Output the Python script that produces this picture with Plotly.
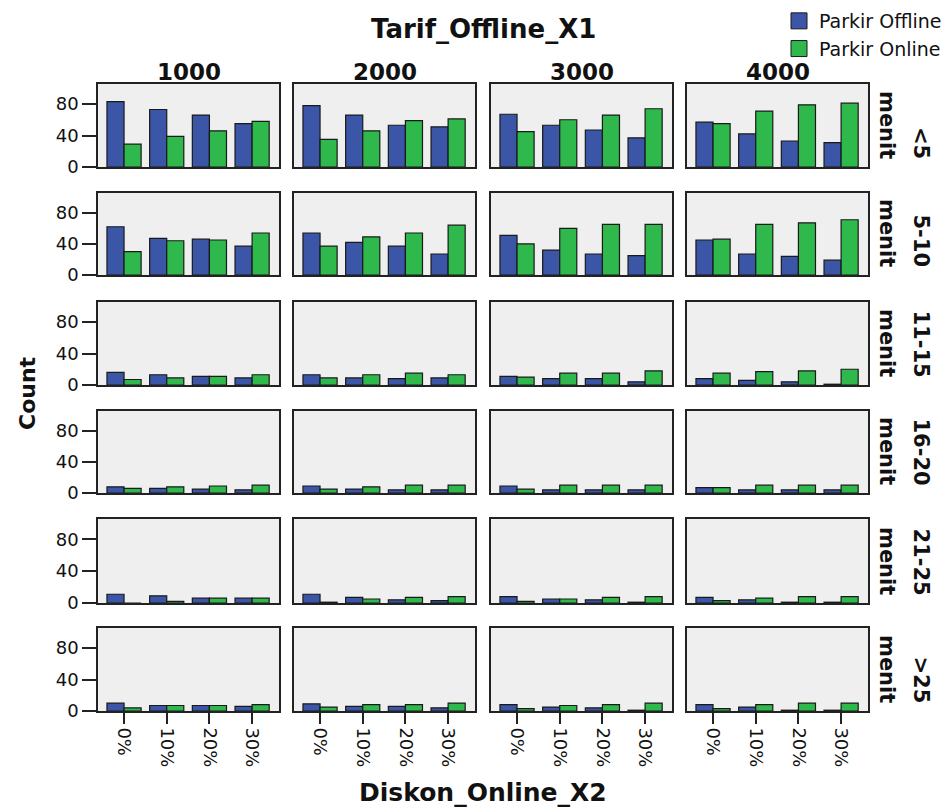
import plotly.graph_objects as go

tarif = ["1000", "2000", "3000", "4000"]
durasi = ["<5", "5-10", "11-15", "16-20", "21-25", ">25"]
diskon = ["0%", "10%", "20%", "30%"]

# values per durasi row: one list per tarif column, 4 diskon values each
offline_lt5 = [[83, 73, 66, 55], [78, 66, 53, 51], [67, 53, 47, 37], [57, 42, 33, 31]]
online_lt5 = [[29, 39, 46, 58], [35, 46, 59, 61], [45, 60, 66, 74], [55, 71, 79, 81]]
offline_5_10 = [[62, 47, 46, 37], [54, 42, 37, 27], [51, 32, 27, 25], [45, 27, 24, 19]]
online_5_10 = [[30, 44, 45, 54], [37, 49, 54, 64], [40, 60, 65, 65], [46, 65, 67, 71]]
offline_11_15 = [[16, 13, 11, 9], [13, 9, 8, 9], [11, 8, 8, 4], [8, 6, 4, 1]]
online_11_15 = [[7, 9, 11, 13], [9, 13, 15, 13], [10, 15, 15, 18], [15, 17, 18, 20]]
offline_16_20 = [[8, 6, 5, 4], [9, 5, 4, 4], [9, 4, 4, 4], [7, 4, 4, 4]]
online_16_20 = [[6, 8, 9, 10], [5, 8, 10, 10], [5, 10, 10, 10], [7, 10, 10, 10]]
offline_21_25 = [[11, 9, 6, 6], [11, 7, 4, 3], [8, 5, 4, 1], [7, 4, 1, 1]]
online_21_25 = [[0, 2, 6, 6], [1, 5, 7, 8], [2, 5, 7, 8], [3, 6, 8, 8]]
offline_gt25 = [[10, 7, 7, 6], [9, 6, 6, 4], [8, 5, 4, 1], [8, 5, 1, 1]]
online_gt25 = [[4, 7, 7, 8], [5, 8, 8, 10], [3, 7, 8, 10], [3, 8, 10, 10]]

offline_rows = [offline_lt5, offline_5_10, offline_11_15, offline_16_20, offline_21_25, offline_gt25]
online_rows = [online_lt5, online_5_10, online_11_15, online_16_20, online_21_25, online_gt25]

BLUE = "#3B55A7"
GREEN = "#2FB84B"
EDGE = "#1a1a1a"
FONT = "DejaVu Sans"

W, H = 951, 810
ML, MR, MT, MB = 98, 83, 84, 99
PW, PH = W - ML - MR, H - MT - MB

col_left = [98, 294, 491, 687]
col_right = [279, 475, 672, 868]
row_top = [84, 193, 302, 411, 519, 628]
row_bot = [167, 275, 385, 493, 603, 711]


def px_x(px):
    return (px - ML) / PW


def px_y(py):
    return (H - MB - py) / PH


fig = go.Figure()
layout = {}
for r in range(6):
    for c in range(4):
        idx = r * 4 + c + 1
        xa = "x" if idx == 1 else f"x{idx}"
        ya = "y" if idx == 1 else f"y{idx}"
        fig.add_trace(go.Bar(x=diskon, y=offline_rows[r][c], name="Parkir Offline",
                             marker=dict(color=BLUE, line=dict(color=EDGE, width=1.2)),
                             showlegend=False, xaxis=xa, yaxis=ya, offsetgroup="off"))
        fig.add_trace(go.Bar(x=diskon, y=online_rows[r][c], name="Parkir Online",
                             marker=dict(color=GREEN, line=dict(color=EDGE, width=1.2)),
                             showlegend=False, xaxis=xa, yaxis=ya, offsetgroup="on"))
        bottom = r == 5
        left = c == 0
        layout["xaxis" if idx == 1 else f"xaxis{idx}"] = dict(
            domain=[px_x(col_left[c]), px_x(col_right[c])],
            anchor=ya, type="category", categoryorder="array", categoryarray=diskon,
            range=[-0.61, 3.63], showline=True, mirror=True, linecolor="#222", linewidth=1.6,
            showgrid=False, zeroline=False,
            ticks="outside" if bottom else "", ticklen=11, tickwidth=1.6, tickcolor="#222",
            showticklabels=bottom, tickangle=90,
            tickfont=dict(family=FONT, size=18, color="#111"),
        )
        layout["yaxis" if idx == 1 else f"yaxis{idx}"] = dict(
            domain=[px_y(row_bot[r]), px_y(row_top[r])],
            anchor=xa, range=[0, 105.4], tickvals=[0, 40, 80],
            showline=True, mirror=True, linecolor="#222", linewidth=1.6,
            showgrid=False, zeroline=False,
            ticks="outside" if left else "", ticklen=14, tickwidth=1.6, tickcolor="#222",
            showticklabels=left, tickfont=dict(family=FONT, size=18, color="#111"),
        )

# legend entries
fig.add_trace(go.Scatter(x=[None], y=[None], mode="markers", name="Parkir Offline",
                         marker=dict(symbol="square", size=16, color=BLUE, line=dict(color=EDGE, width=1))))
fig.add_trace(go.Scatter(x=[None], y=[None], mode="markers", name="Parkir Online",
                         marker=dict(symbol="square", size=16, color=GREEN, line=dict(color=EDGE, width=1))))

annotations = []
annotations.append(dict(text="<b>Tarif_Offline_X1</b>", x=px_x(484), y=px_y(29), xref="paper", yref="paper",
                        xanchor="center", yanchor="middle", showarrow=False,
                        font=dict(family=FONT, size=26, color="#111")))
for c, t in enumerate(tarif):
    annotations.append(dict(text=f"<b>{t}</b>", x=px_x((col_left[c] + col_right[c]) / 2), y=px_y(72),
                            xref="paper", yref="paper", xanchor="center", yanchor="middle",
                            showarrow=False, font=dict(family=FONT, size=23, color="#111")))
for r, d in enumerate(durasi):
    yb = px_y(row_bot[r] - 6)
    annotations.append(dict(text="<b>menit</b>", x=px_x(887), y=yb, xref="paper", yref="paper",
                            xanchor="center", yanchor="bottom", textangle=90, showarrow=False,
                            font=dict(family=FONT, size=21, color="#111")))
    annotations.append(dict(text=f"<b>{d}</b>", x=px_x(921), y=yb, xref="paper", yref="paper",
                            xanchor="center", yanchor="bottom", textangle=90, showarrow=False,
                            font=dict(family=FONT, size=21, color="#111")))
annotations.append(dict(text="<b>Count</b>", x=px_x(27), y=px_y(393), xref="paper", yref="paper",
                        xanchor="center", yanchor="middle", textangle=-90, showarrow=False,
                        font=dict(family=FONT, size=22, color="#111")))
annotations.append(dict(text="<b>Diskon_Online_X2</b>", x=px_x(483), y=px_y(792), xref="paper", yref="paper",
                        xanchor="center", yanchor="middle", showarrow=False,
                        font=dict(family=FONT, size=25, color="#111")))

fig.update_layout(
    width=W, height=H,
    margin=dict(l=ML, r=MR, t=MT, b=MB, autoexpand=False),
    paper_bgcolor="white", plot_bgcolor="#EFEFEF",
    barmode="group", bargap=0.2, bargroupgap=0,
    showlegend=True,
    legend=dict(x=px_x(779), y=px_y(2), xanchor="left", yanchor="top",
                font=dict(family=FONT, size=19, color="#111"), bgcolor="rgba(0,0,0,0)",
                itemwidth=30, tracegroupgap=0),
    annotations=annotations,
    **layout,
)

fig.write_html("out.html")
